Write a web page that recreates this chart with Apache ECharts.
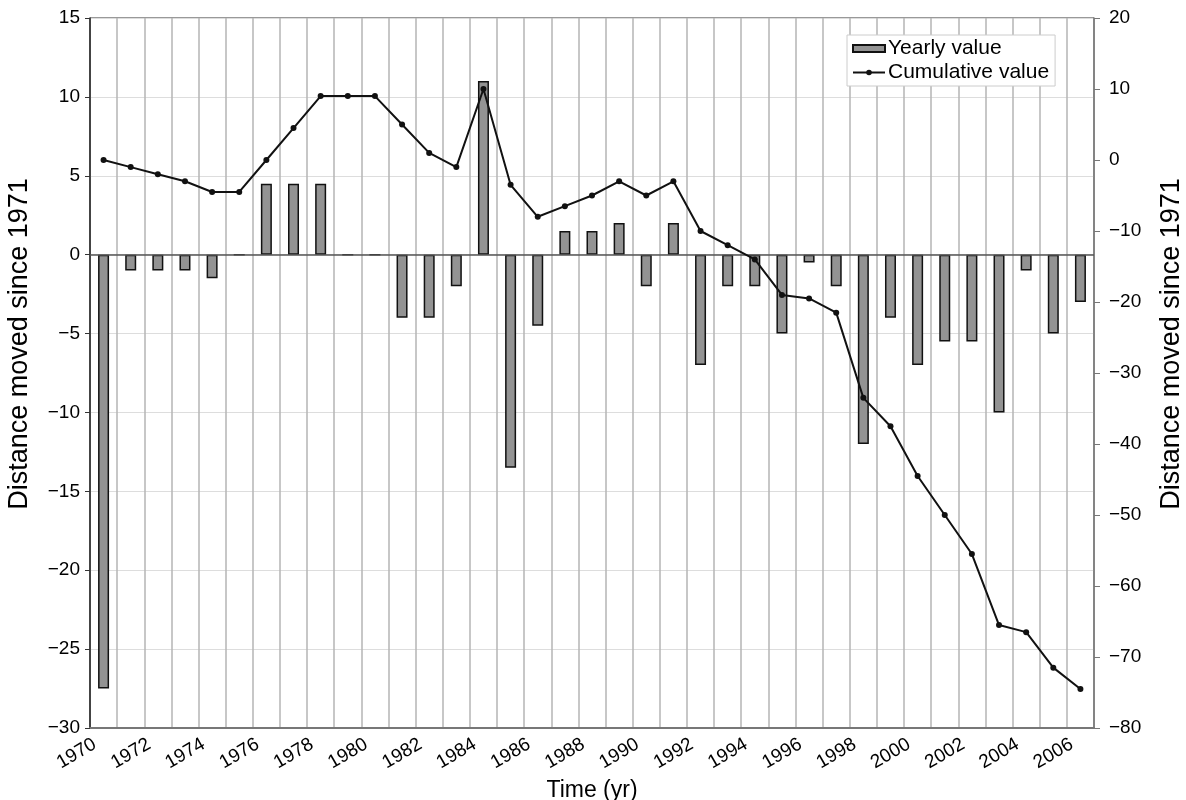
<!DOCTYPE html>
<html>
<head>
<meta charset="utf-8">
<script src="https://cdn.jsdelivr.net/npm/echarts@6/dist/echarts.min.js"></script>
<style>
html,body{margin:0;padding:0;background:#fff;}
#c{width:1186px;height:800px;}
</style>
</head>
<body>
<div id="c"></div>
<script>
const years = ['1970','1971','1972','1973','1974','1975','1976','1977','1978','1979','1980','1981','1982','1983','1984','1985','1986','1987','1988','1989','1990','1991','1992','1993','1994','1995','1996','1997','1998','1999','2000','2001','2002','2003','2004','2005','2006'];
const yearlyValue = [-27.5,-1,-1,-1,-1.5,0,4.5,4.5,4.5,0,0,-4,-4,-2,11,-13.5,-4.5,1.5,1.5,2,-2,2,-7,-2,-2,-5,-0.5,-2,-12,-4,-7,-5.5,-5.5,-10,-1,-5,-3];
const cumulativeValue = [0,-1,-2,-3,-4.5,-4.5,0,4.5,9,9,9,5,1,-1,10,-3.5,-8,-6.5,-5,-3,-5,-3,-10,-12,-14,-19,-19.5,-21.5,-33.5,-37.5,-44.5,-50,-55.5,-65.5,-66.5,-71.5,-74.5];
const leftTicks = {min:-30, max:15, interval:5};
const rightTicks = {min:-80, max:20, interval:10};
const axisTitle = 'Distance moved since 1971';
const xTitle = 'Time (yr)';

const FONT = "'Liberation Sans', Arial, Helvetica, sans-serif";
const minus = v => String(v).replace('-', '\u2212');

const chart = echarts.init(document.getElementById('c'), null, {renderer:'canvas'});
chart.setOption({
  animation:false,
  backgroundColor:'#fff',
  textStyle:{fontFamily:FONT},
  grid:{left:90, right:92, top:18, bottom:72, containLabel:false, outerBoundsMode:'none',
        show:true, borderColor:'#333', borderWidth:1, backgroundColor:'transparent'},
  legend:{
    left:847, top:35, orient:'vertical', itemWidth:32, itemHeight:7, itemGap:3,
    backgroundColor:'#fff', borderColor:'#ccc', borderWidth:1, padding:[3,6,3,5],
    textStyle:{fontSize:21, color:'#000', fontFamily:FONT, padding:[0,0,0,-2]},
    data:[{name:'Yearly value', icon:'rect'}, {name:'Cumulative value'}]
  },
  xAxis:{
    type:'category', data:years, boundaryGap:true,
    name:xTitle, nameLocation:'middle', nameGap:50,
    nameTextStyle:{fontSize:23, color:'#000', fontFamily:FONT},
    axisLine:{onZero:false, lineStyle:{color:'#777', width:2}},
    axisTick:{show:false},
    axisLabel:{interval:1, rotate:30, fontSize:19, color:'#000', margin:10, padding:[0,10,0,0], fontFamily:FONT},
    splitLine:{show:true, interval:0, lineStyle:{color:'#b5b5b5', width:1.5}}
  },
  yAxis:[
    {
      type:'value', min:leftTicks.min, max:leftTicks.max, interval:leftTicks.interval, position:'left',
      name:axisTitle, nameLocation:'middle', nameGap:57, nameRotate:90,
      nameTextStyle:{fontSize:27, color:'#000', fontFamily:FONT, padding:[0,0,0,58]},
      axisLine:{show:true, lineStyle:{color:'#222', width:1.5}},
      axisTick:{show:true, length:5, lineStyle:{color:'#333'}},
      axisLabel:{fontSize:19, color:'#000', margin:10, formatter:minus, fontFamily:FONT},
      splitLine:{show:true, lineStyle:{color:'#ddd', width:1}}
    },
    {
      type:'value', min:rightTicks.min, max:rightTicks.max, interval:rightTicks.interval, position:'right',
      name:axisTitle, nameLocation:'middle', nameGap:64, nameRotate:90,
      nameTextStyle:{fontSize:27, color:'#000', fontFamily:FONT, padding:[0,0,0,58]},
      axisLine:{show:true, lineStyle:{color:'#777', width:1.5}},
      axisTick:{show:true, length:6, lineStyle:{color:'#777'}},
      axisLabel:{fontSize:19, color:'#000', margin:15, formatter:minus, fontFamily:FONT},
      splitLine:{show:false}
    }
  ],
  series:[
    {
      name:'Yearly value', type:'bar', yAxisIndex:0, data:yearlyValue, barWidth:11,
      itemStyle:{color:'#939393', borderColor:'#111', borderWidth:1.5},
      markLine:{silent:true, symbol:'none', label:{show:false}, animation:false,
        lineStyle:{color:'#555', width:1.5, type:'solid'}, data:[{yAxis:0}]}
    },
    {
      name:'Cumulative value', type:'line', yAxisIndex:1, data:cumulativeValue,
      symbol:'circle', symbolSize:6, showSymbol:true,
      lineStyle:{color:'#111', width:2}, itemStyle:{color:'#111'}, z:5
    }
  ]
});
</script>
</body>
</html>
